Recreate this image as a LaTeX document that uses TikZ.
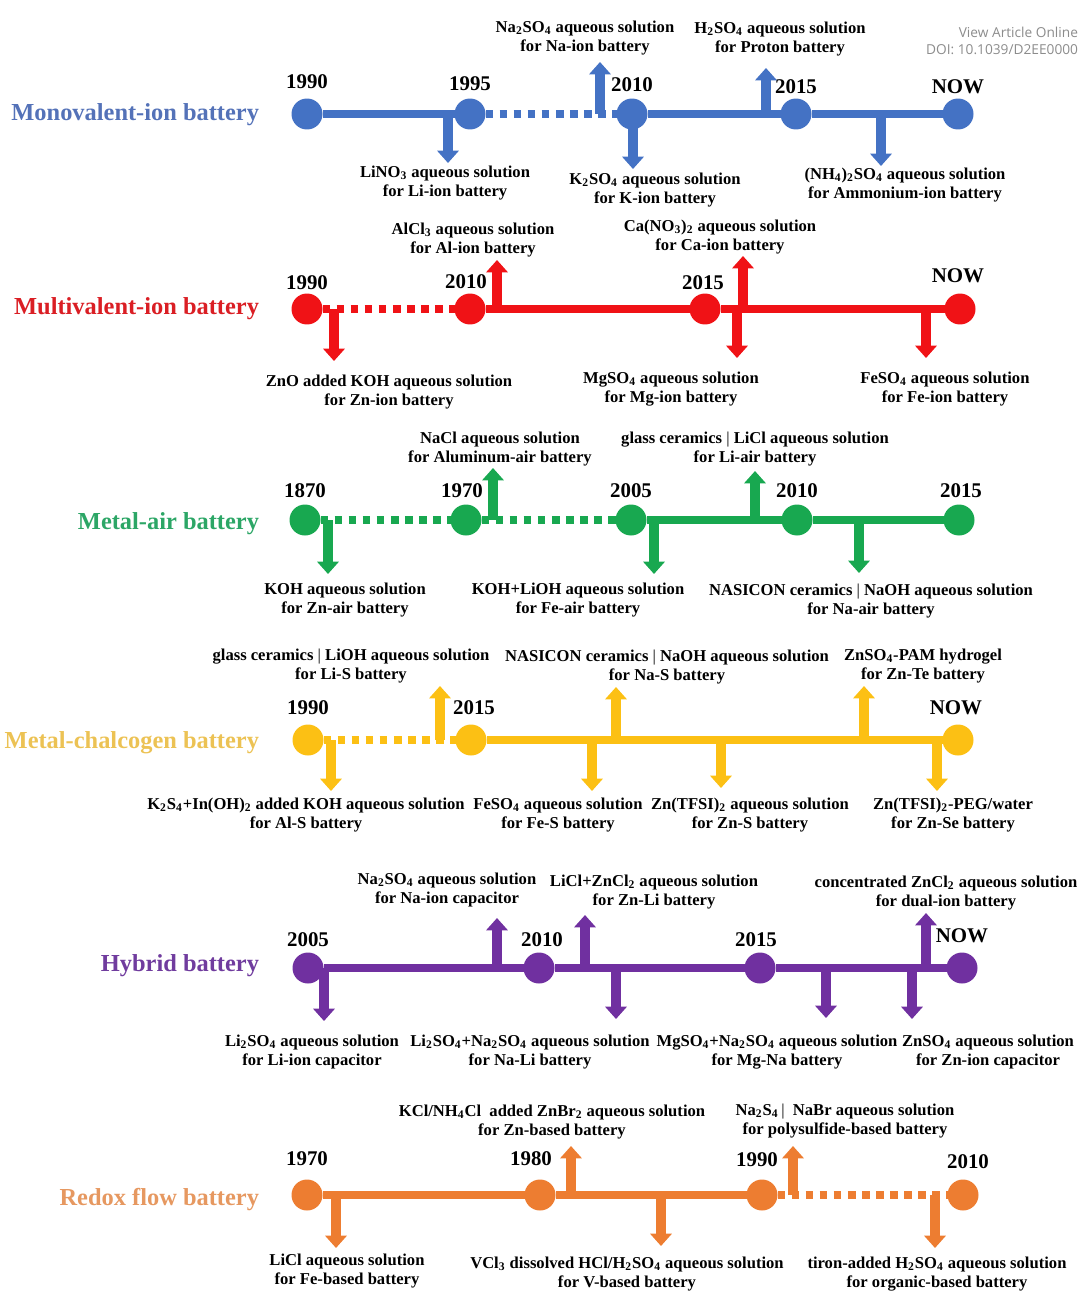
\documentclass[tikz,border=0pt]{standalone}
\usepackage{fontspec}
\setmainfont{Liberation Serif}
\newfontfamily\doifont{Open Sans}
\usetikzlibrary{arrows.meta}
\definecolor{monoblue}{RGB}{68,114,196}
\definecolor{monotext}{RGB}{84,114,184}
\definecolor{multired}{RGB}{240,18,22}
\definecolor{multitext}{RGB}{218,30,36}
\definecolor{airgreen}{RGB}{24,168,80}
\definecolor{airtext}{RGB}{44,166,102}
\definecolor{chalcyellow}{RGB}{252,192,20}
\definecolor{chalctext}{RGB}{236,194,84}
\definecolor{hybpurple}{RGB}{112,48,160}
\definecolor{hybtext}{RGB}{112,60,158}
\definecolor{flowora}{RGB}{237,125,49}
\definecolor{flowtext}{RGB}{230,152,96}
\begin{document}
\begin{tikzpicture}[x={(0.02cm,0)},y={(0,-0.02cm)},
  every node/.style={inner sep=0pt, outer sep=0pt},
  yeardot/.style={circle, fill=#1, minimum size=0.62cm},
  tline/.style={draw=#1, line width=4.2pt},
  dotline/.style={draw=#1, line width=4.2pt, dash pattern=on 4.4pt off 3.6pt},
  evt/.style={draw=#1, line width=5.7pt, -{Triangle[width=12pt,length=7pt]}},
  rowtitle/.style={anchor=east, font=\fontsize{13.9}{16}\selectfont\bfseries, text=#1},
  yearlbl/.style={font=\fontsize{11.9}{14}\selectfont\bfseries},
  evtnote/.style={font=\fontsize{9.45}{11.3}\selectfont\bfseries, align=center}]
\useasboundingbox (0,0) rectangle (1080,1301);
\clip (0,0) rectangle (1080,1301);
\node[anchor=east, text=black!45, font=\doifont\fontsize{7.8}{9}\selectfont] (view) at (1078,32) {View Article Online};
\node[anchor=east, text=black!45, font=\doifont\fontsize{7.8}{9}\selectfont] (doi) at (1078,50) {DOI: 10.1039/D2EE0000};

% Monovalent-ion
\node[rowtitle=monotext] (mono) at (259,115) {Monovalent-ion battery};
\foreach \n/\x/\yy/\yr in {a/307/82/1990,b/470/84/1995,c/632/85/2010,d/796/87/2015,e/958/87/NOW} {
\node[yeardot=monoblue] (m\n) at (\x,114) {};
\node[yearlbl] (my\n) at (\x,\yy) {\yr};
}
\draw[tline=monoblue] (ma) -- (mb) (mc) -- (md) -- (me);
\draw[dotline=monoblue] (mb) -- (mc);
\foreach \i/\x/\yb in {1/448/163,2/600/62,3/633/169,4/766/68,5/881/166} {
\coordinate (ms\i) at (\x,114);
\coordinate (mt\i) at (\x,\yb);
\draw[evt=monoblue] (ms\i) -- (mt\i);
}
\node[evtnote] (mn1) at (445,183) {LiNO\textsubscript{3} aqueous solution\\for Li-ion battery};
\node[evtnote] (mn2) at (585,38) {Na\textsubscript{2}SO\textsubscript{4} aqueous solution\\for Na-ion battery};
\node[evtnote] (mn3) at (655,190) {K\textsubscript{2}SO\textsubscript{4} aqueous solution\\for K-ion battery};
\node[evtnote] (mn4) at (780,39) {H\textsubscript{2}SO\textsubscript{4} aqueous solution\\for Proton battery};
\node[evtnote] (mn5) at (905,185) {(NH\textsubscript{4})\textsubscript{2}SO\textsubscript{4} aqueous solution\\for Ammonium-ion battery};

% Multivalent-ion
\node[rowtitle=multitext] (multi) at (259,309) {Multivalent-ion battery};
\foreach \n/\x/\xx/\yy/\yr in {a/307/307/283/1990,b/470/466/282/2010,c/705/703/283/2015,d/960/958/276/NOW} {
\node[yeardot=multired] (v\n) at (\x,309) {};
\node[yearlbl] (vy\n) at (\xx,\yy) {\yr};
}
\draw[dotline=multired] (va) -- (vb);
\draw[tline=multired] (vb) -- (vc) -- (vd);
\foreach \i/\x/\yb in {1/334/361,2/497/260,3/743/256,4/737/358,5/926/358} {
\coordinate (vs\i) at (\x,309);
\coordinate (vt\i) at (\x,\yb);
\draw[evt=multired] (vs\i) -- (vt\i);
}
\node[evtnote] (vn1) at (389,392) {ZnO added KOH aqueous solution\\for Zn-ion battery};
\node[evtnote] (vn2) at (473,240) {AlCl\textsubscript{3} aqueous solution\\for Al-ion battery};
\node[evtnote] (vn3) at (720,237) {Ca(NO\textsubscript{3})\textsubscript{2} aqueous solution\\for Ca-ion battery};
\node[evtnote] (vn4) at (671,389) {MgSO\textsubscript{4} aqueous solution\\for Mg-ion battery};
\node[evtnote] (vn5) at (945,389) {FeSO\textsubscript{4} aqueous solution\\for Fe-ion battery};

% Metal-air
\node[rowtitle=airtext] (air) at (259,524) {Metal-air battery};
\foreach \n/\x/\xx/\yr in {a/305/305/1870,b/466/462/1970,c/631/631/2005,d/797/797/2010,e/959/961/2015} {
\node[yeardot=airgreen] (g\n) at (\x,520) {};
\node[yearlbl] (gy\n) at (\xx,491) {\yr};
}
\draw[dotline=airgreen] (ga) -- (gb) -- (gc);
\draw[tline=airgreen] (gc) -- (gd) -- (ge);
\foreach \i/\x/\yb in {1/328/574,2/493/468,3/654/574,4/755/471,5/859/573} {
\coordinate (gs\i) at (\x,520);
\coordinate (gt\i) at (\x,\yb);
\draw[evt=airgreen] (gs\i) -- (gt\i);
}
\node[evtnote] (gn1) at (345,600) {KOH aqueous solution\\for Zn-air battery};
\node[evtnote] (gn2) at (500,449) {NaCl aqueous solution\\for Aluminum-air battery};
\node[evtnote] (gn3) at (578,600) {KOH+LiOH aqueous solution\\for Fe-air battery};
\node[evtnote] (gn4) at (755,449) {glass ceramics\ {\mdseries |}\ LiCl aqueous solution\\for Li-air battery};
\node[evtnote] (gn5) at (871,601) {NASICON ceramics\ {\mdseries |}\ NaOH aqueous solution\\for Na-air battery};

% Metal-chalcogen
\node[rowtitle=chalctext] (chalc) at (259,743) {Metal-chalcogen battery};
\foreach \n/\x/\xx/\yr in {a/308/308/1990,b/471/474/2015,c/958/956/NOW} {
\node[yeardot=chalcyellow] (c\n) at (\x,740) {};
\node[yearlbl] (cy\n) at (\xx,708) {\yr};
}
\draw[dotline=chalcyellow] (ca) -- (cb);
\draw[tline=chalcyellow] (cb) -- (cc);
\foreach \i/\x/\yb in {1/331/791,2/440/686,3/592/791,4/616/687,5/721/788,6/864/686,7/937/791} {
\coordinate (cs\i) at (\x,740);
\coordinate (ct\i) at (\x,\yb);
\draw[evt=chalcyellow] (cs\i) -- (ct\i);
}
\node[evtnote] (cn1) at (306,815) {K\textsubscript{2}S\textsubscript{4}+In(OH)\textsubscript{2} added KOH aqueous solution\\for Al-S battery};
\node[evtnote] (cn2) at (351,666) {glass ceramics\ {\mdseries |}\ LiOH aqueous solution\\for Li-S battery};
\node[evtnote] (cn3) at (558,815) {FeSO\textsubscript{4} aqueous solution\\for Fe-S battery};
\node[evtnote] (cn4) at (667,667) {NASICON ceramics\ {\mdseries |}\ NaOH aqueous solution\\for Na-S battery};
\node[evtnote] (cn5) at (750,815) {Zn(TFSI)\textsubscript{2} aqueous solution\\for Zn-S battery};
\node[evtnote] (cn6) at (923,666) {ZnSO\textsubscript{4}-PAM hydrogel\\for Zn-Te battery};
\node[evtnote] (cn7) at (953,815) {Zn(TFSI)\textsubscript{2}-PEG/water\\for Zn-Se battery};

% Hybrid
\node[rowtitle=hybtext] (hyb) at (259,966) {Hybrid battery};
\foreach \n/\x/\xx/\yy/\yr in {a/308/308/940/2005,b/539/542/940/2010,c/760/756/940/2015,d/962/962/936/NOW} {
\node[yeardot=hybpurple] (h\n) at (\x,968) {};
\node[yearlbl] (hy\n) at (\xx,\yy) {\yr};
}
\draw[tline=hybpurple] (ha) -- (hb) -- (hc) -- (hd);
\foreach \i/\x/\yb in {1/324/1021,2/497/918,3/585/915,4/616/1019,5/826/1018,6/926/913,7/912/1019} {
\coordinate (hs\i) at (\x,968);
\coordinate (ht\i) at (\x,\yb);
\draw[evt=hybpurple] (hs\i) -- (ht\i);
}
\node[evtnote] (hn1) at (312,1052) {Li\textsubscript{2}SO\textsubscript{4} aqueous solution\\for Li-ion capacitor};
\node[evtnote] (hn2) at (447,890) {Na\textsubscript{2}SO\textsubscript{4} aqueous solution\\for Na-ion capacitor};
\node[evtnote] (hn3) at (654,892) {LiCl+ZnCl\textsubscript{2} aqueous solution\\for Zn-Li battery};
\node[evtnote] (hn4) at (530,1052) {Li\textsubscript{2}SO\textsubscript{4}+Na\textsubscript{2}SO\textsubscript{4} aqueous solution\\for Na-Li battery};
\node[evtnote] (hn5) at (777,1052) {MgSO\textsubscript{4}+Na\textsubscript{2}SO\textsubscript{4} aqueous solution\\for Mg-Na battery};
\node[evtnote] (hn6) at (946,893) {concentrated ZnCl\textsubscript{2} aqueous solution\\for dual-ion battery};
\node[evtnote] (hn7) at (988,1052) {ZnSO\textsubscript{4} aqueous solution\\for Zn-ion capacitor};

% Redox flow
\node[rowtitle=flowtext] (flow) at (259,1200) {Redox flow battery};
\foreach \n/\x/\xx/\yy/\yr in {a/307/307/1159/1970,b/540/531/1159/1980,c/762/757/1160/1990,d/963/968/1162/2010} {
\node[yeardot=flowora] (f\n) at (\x,1195) {};
\node[yearlbl] (fy\n) at (\xx,\yy) {\yr};
}
\draw[tline=flowora] (fa) -- (fb) -- (fc);
\draw[dotline=flowora] (fc) -- (fd);
\foreach \i/\x/\yb in {1/336/1248,2/571/1146,3/661/1246,4/793/1146,5/935/1248} {
\coordinate (fs\i) at (\x,1195);
\coordinate (ft\i) at (\x,\yb);
\draw[evt=flowora] (fs\i) -- (ft\i);
}
\node[evtnote] (fn1) at (347,1271) {LiCl aqueous solution\\for Fe-based battery};
\node[evtnote] (fn2) at (552,1122) {KCl/NH\textsubscript{4}Cl\ \ added ZnBr\textsubscript{2} aqueous solution\\for Zn-based battery};
\node[evtnote] (fn3) at (627,1274) {VCl\textsubscript{3} dissolved HCl/H\textsubscript{2}SO\textsubscript{4} aqueous solution\\for V-based battery};
\node[evtnote] (fn4) at (845,1121) {Na\textsubscript{2}S\textsubscript{4}\,{\mdseries |}\ \ NaBr aqueous solution\\for polysulfide-based battery};
\node[evtnote] (fn5) at (937,1274) {tiron-added H\textsubscript{2}SO\textsubscript{4} aqueous solution\\for organic-based battery};
\end{tikzpicture}
\end{document}
